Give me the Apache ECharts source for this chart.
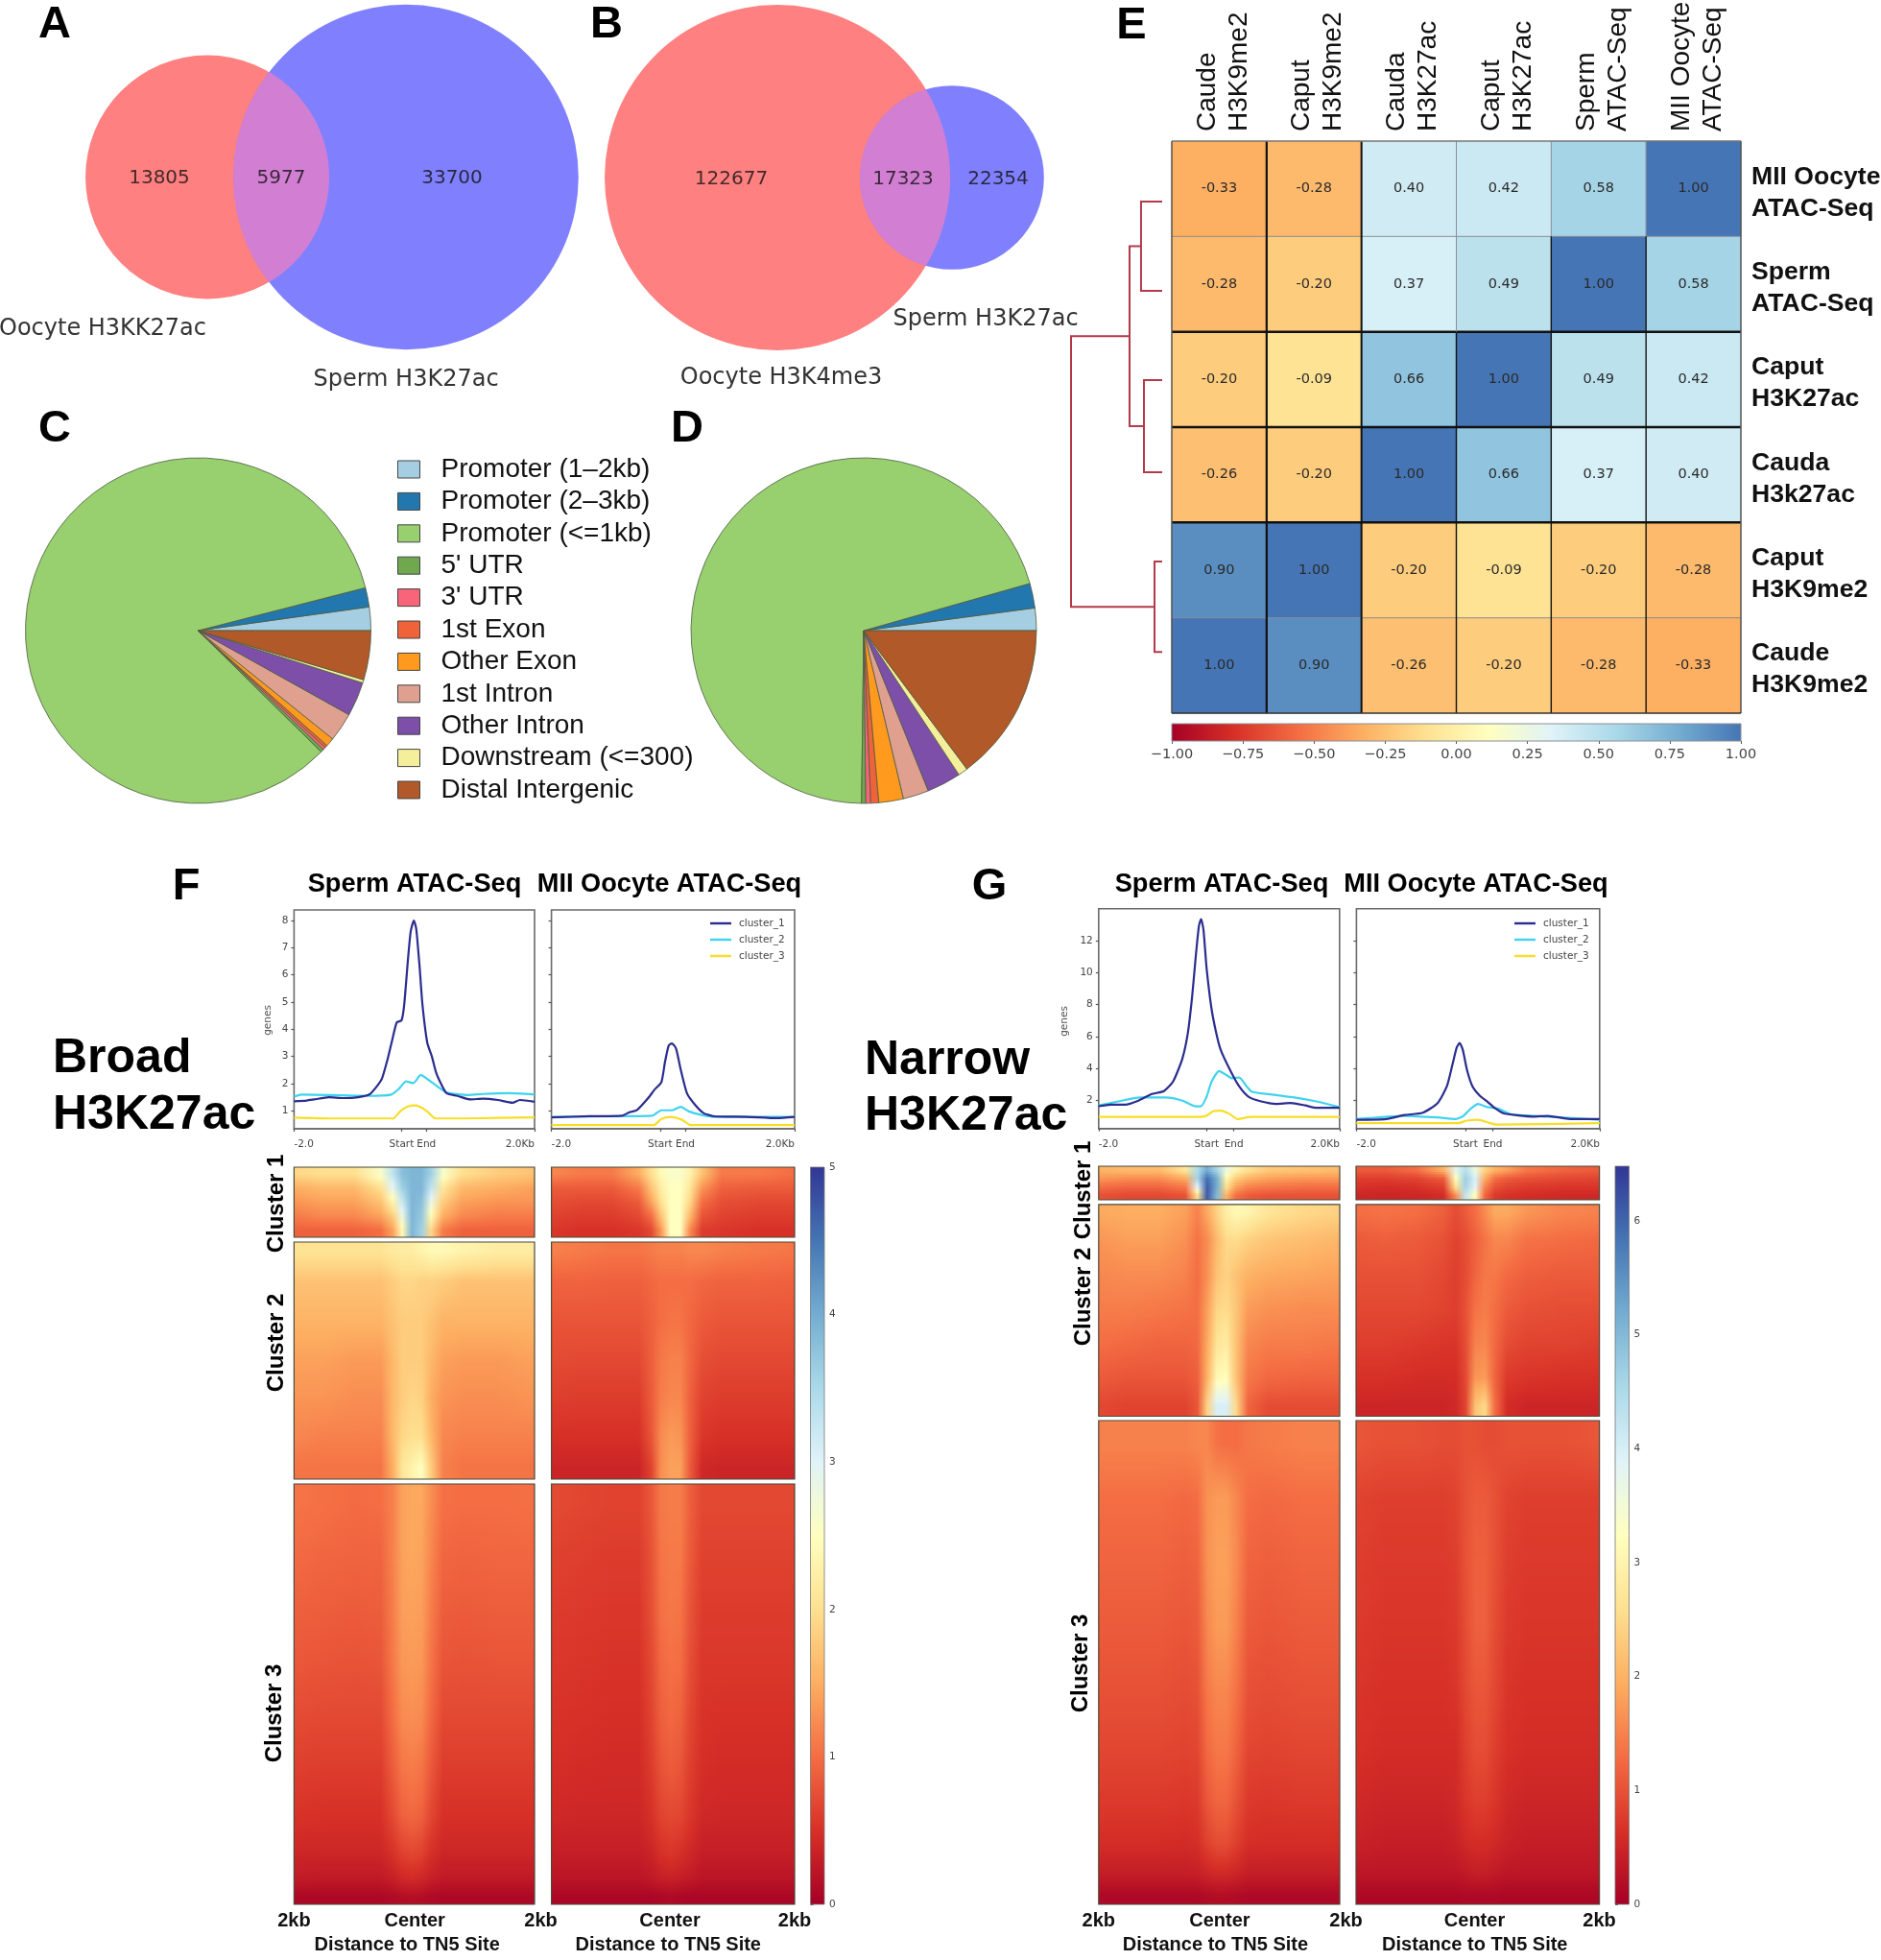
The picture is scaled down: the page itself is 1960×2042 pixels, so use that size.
<!DOCTYPE html>
<html><head><meta charset="utf-8">
<style>html,body{margin:0;padding:0;background:#fff}#c{width:1960px;height:2042px}</style>
<script src="https://cdn.jsdelivr.net/npm/echarts@6/dist/echarts.min.js"></script>
</head><body><div id="c"></div>
<script>
// ---------- Venn values
const vennALabels = ['Oocyte H3KK27ac', 'Sperm H3K27ac'];
const vennAValues = [13805, 5977, 33700];
const vennBLabels = ['Oocyte H3K4me3', 'Sperm H3K27ac'];
const vennBValues = [122677, 17323, 22354];

// ---------- Genomic annotation pies (percent)
const featureNames = ['Promoter (1\u20132kb)', 'Promoter (2\u20133kb)', 'Promoter (<=1kb)', "5' UTR", "3' UTR", '1st Exon', 'Other Exon', '1st Intron', 'Other Intron', 'Downstream (<=300)', 'Distal Intergenic'];
const featureColors = ['#A6CEE3', '#2277AE', '#98D070', '#6FA84F', '#F8647A', '#F0623A', '#FF9A1F', '#E0A090', '#7D4FA8', '#F5EE9A', '#B15928'];
const pieC = [2.2, 1.8, 83.7, 0.3, 0.25, 0.25, 0.8, 2.7, 3.2, 0.3, 4.6];
const pieD = [2.1, 2.3, 70.4, 0.4, 0.45, 0.75, 2.3, 2.4, 3.2, 0.9, 14.8];

// ---------- Correlation matrix
const corrCols = ['Caude\nH3K9me2', 'Caput\nH3K9me2', 'Cauda\nH3K27ac', 'Caput\nH3K27ac', 'Sperm\nATAC-Seq', 'MII Oocyte\nATAC-Seq'];
const corrRows = ['MII Oocyte\nATAC-Seq', 'Sperm\nATAC-Seq', 'Caput\nH3K27ac', 'Cauda\nH3k27ac', 'Caput\nH3K9me2', 'Caude\nH3K9me2'];
const corrValues = [
  [-0.33, -0.28, 0.40, 0.42, 0.58, 1.00],
  [-0.28, -0.20, 0.37, 0.49, 1.00, 0.58],
  [-0.20, -0.09, 0.66, 1.00, 0.49, 0.42],
  [-0.26, -0.20, 1.00, 0.66, 0.37, 0.40],
  [0.90, 1.00, -0.20, -0.09, -0.20, -0.28],
  [1.00, 0.90, -0.26, -0.20, -0.28, -0.33]
];
const corrTicks = [-1, -0.75, -0.5, -0.25, 0, 0.25, 0.5, 0.75, 1];
// dendrogram merges: [merge height, y of child a, height of a, y of child b, height of b]
const dendroMerges = [
  [0.232, 0.634, 0, 1.571, 0],
  [0.200, 2.507, 0, 3.474, 0],
  [0.084, 4.410, 0, 5.358, 0],
  [0.358, 1.102, 0.232, 2.990, 0.200],
  [1.000, 2.046, 0.358, 4.884, 0.084]
];

// ---------- Profile line values (x = percent of the -2.0..2.0Kb window)
const clusterNames = ['cluster_1', 'cluster_2', 'cluster_3'];
const profileTickLabels = ['-2.0', 'Start', 'End', '2.0Kb'];
const fTickPos = [0, 44.7, 55, 100];
const gTickPos = [0, 44.8, 56.1, 100];
const fSpermC1X = [0,5.3,8.4,14.5,20.6,26.7,31.3,34.4,36.6,38.9,40.8,42.7,44.7,45.8,47.3,48.5,49.8,50.8,52.2,53.4,55.4,57.3,59.1,61.1,63.4,67.9,73.3,78.6,84.7,90.8,93.9,100];
const fSpermC1Y = [1.35,1.38,1.42,1.5,1.47,1.5,1.6,1.9,2.2,2.9,3.6,4.25,4.33,4.9,6.5,7.6,8.0,7.7,6.3,4.9,3.5,3.0,2.4,2.0,1.65,1.55,1.42,1.45,1.4,1.3,1.4,1.33];
const fSpermC2X = [0,3.1,16,31.3,40.5,43.5,46.6,49.6,52.7,55.7,58.8,63.4,72.5,78.6,89.3,100];
const fSpermC2Y = [1.52,1.6,1.58,1.55,1.6,1.8,2.08,2.02,2.32,2.15,1.95,1.68,1.58,1.62,1.65,1.6];
const fSpermC3X = [0,16,41.2,44.3,47.3,50.4,53.4,55.7,58.8,69.5,84.7,100];
const fSpermC3Y = [0.75,0.72,0.72,1.0,1.16,1.2,1.1,0.95,0.72,0.72,0.74,0.76];
const fOocyteC1X = [0,15.7,29,32.1,35.1,39.6,42.6,45.2,46.7,48.2,49.5,51.2,53.2,55.7,58.8,62.5,67,80.6,92.7,100];
const fOocyteC1Y = [0.76,0.8,0.82,0.95,1.02,1.45,1.8,2.05,2.8,3.4,3.48,3.3,2.5,1.65,1.25,0.92,0.8,0.78,0.73,0.78];
const fOocyteC2X = [0,30.8,41.4,45.2,49.7,53.2,56.5,61.8,67.8,100];
const fOocyteC2Y = [0.78,0.8,0.82,1.02,1.02,1.15,0.98,0.85,0.78,0.78];
const fOocyteC3X = [0,42.1,45.2,49,53.5,57.3,100];
const fOocyteC3Y = [0.48,0.48,0.7,0.78,0.68,0.48,0.48];
const gSpermC1X = [0,5,11.1,16.5,21.8,27.1,30.9,34.7,37,38.8,40.3,41.6,42.5,43.5,44.8,46.8,48.7,50.6,54.6,58.3,62.2,67.5,73.6,79.7,85.8,90.4,100];
const gSpermC1Y = [1.65,1.75,1.75,2.0,2.4,2.6,3.2,4.6,6.2,8.5,11,12.9,13.35,12.7,10.3,7.8,6.3,5.2,3.9,2.9,2.25,1.95,1.8,1.85,1.7,1.55,1.55];
const gSpermC2X = [0,8.1,17.2,27.9,34.8,40.1,42.4,44.7,46.9,50,53,55.3,58.4,61.4,63.7,73.6,81.3,90.4,100];
const gSpermC2Y = [1.7,1.95,2.2,2.2,2.0,1.65,1.65,2.2,3.2,3.85,3.6,3.4,3.45,2.9,2.55,2.35,2.2,1.95,1.6];
const gSpermC3X = [0,41.6,44.7,47.7,50.8,54.6,57.6,63,100];
const gSpermC3Y = [0.98,0.98,1.05,1.35,1.38,1.15,0.85,0.98,0.98];
const gOocyteC1X = [0,12.2,19.8,27.3,33.4,37.2,39.4,41.2,42.4,43.7,45.5,47.7,50.8,53.8,56.8,60.6,72.7,78.7,87.8,100];
const gOocyteC1Y = [0.8,0.85,1.1,1.25,1.85,2.9,4.2,5.3,5.6,5.2,3.9,2.9,2.3,1.95,1.55,1.2,1,1.05,0.85,0.85];
const gOocyteC2X = [0,19.8,33.4,40.9,44,47,50,53.8,58.3,63.6,78.7,100];
const gOocyteC2Y = [0.85,1.05,0.95,0.85,1.05,1.5,1.8,1.6,1.5,1.15,1,0.8];
const gOocyteC3X = [0,41.7,45.5,50,53.8,57.6,100];
const gOocyteC3Y = [0.6,0.6,0.75,0.8,0.65,0.5,0.6];

// ---------- Signal heatmap values read at these column anchors (fraction of panel width)
const heatCols = [0,.12,.25,.36,.41,.45,.49,.53,.57,.62,.7,.85,1];
const heatTickLabels = ['2kb', 'Center', '2kb'];
const c2Edges = [0,.08,.25,.42,.58,.74,.9,1];
const c3Edges = [0,.1,.22,.36,.5,.62,.74,.84,.91,.965,1];

const fSperm1 = [
 [1.9,2.0,2.0,2.6,3.3,3.8,3.9,3.9,3.6,2.6,2.0,1.8,1.7],
 [1.5,1.6,1.6,2.0,2.9,3.6,3.9,3.9,3.3,2.1,1.6,1.5,1.4],
 [1.3,1.4,1.4,1.7,2.3,3.2,3.9,3.8,2.8,1.8,1.4,1.3,1.3],
 [1.1,1.2,1.2,1.4,1.8,2.8,3.9,3.7,2.4,1.5,1.2,1.1,1.1],
 [.9,.9,.9,1.0,1.4,2.4,3.9,3.6,1.9,1.1,.9,.9,.9]];
const fSperm2 = [
 [2.05,2.05,2.05,2.05,2.15,2.2,2.2,2.3,2.4,2.4,2.3,2.2,2.2],
 [1.7,1.7,1.7,1.7,1.8,1.9,1.9,1.85,1.85,1.8,1.7,1.7,1.7],
 [1.55,1.55,1.55,1.55,1.7,1.8,1.8,1.8,1.7,1.55,1.55,1.55,1.55],
 [1.4,1.4,1.35,1.35,1.6,1.8,1.8,1.8,1.6,1.4,1.35,1.35,1.4],
 [1.3,1.3,1.25,1.25,1.6,1.8,1.9,1.85,1.5,1.3,1.25,1.25,1.3],
 [1.2,1.15,1.15,1.15,1.6,1.9,2,2,1.6,1.2,1.15,1.15,1.15],
 [1.05,1.05,1.05,1.05,1.5,2.1,2.3,2.5,1.8,1.15,1.05,1.05,1.05]];
const fSperm3 = [
 [1.05,1.02,.98,1,1.15,1.4,1.45,1.45,1.25,1.02,1,1,1.02],
 [.98,.95,.93,.93,1.15,1.4,1.45,1.42,1.2,.95,.93,.95,.95],
 [.9,.88,.86,.88,1.12,1.38,1.4,1.38,1.12,.88,.86,.88,.88],
 [.82,.8,.78,.8,1.08,1.32,1.35,1.32,1.05,.8,.78,.8,.8],
 [.72,.7,.7,.7,.98,1.22,1.25,1.22,.95,.7,.7,.7,.7],
 [.62,.6,.6,.6,.85,1.05,1.1,1.05,.82,.6,.6,.6,.6],
 [.52,.5,.5,.5,.7,.9,.95,.9,.68,.5,.5,.5,.5],
 [.4,.4,.4,.4,.52,.65,.7,.65,.5,.4,.4,.4,.4],
 [.28,.27,.27,.27,.33,.42,.45,.42,.33,.27,.27,.27,.27],
 [.08,.08,.08,.08,.1,.14,.15,.14,.1,.08,.08,.08,.08]];
const fOocyte1 = [
 [1.2,1.1,1.1,1.5,2.0,2.4,2.6,2.6,2.3,1.7,1.1,1.1,1.0],
 [.85,.85,.85,1.1,1.7,2.2,2.5,2.5,2.1,1.3,.9,.85,.85],
 [.75,.7,.7,.85,1.4,2.0,2.5,2.5,1.9,1.0,.75,.7,.7],
 [.65,.6,.6,.7,1.0,1.7,2.5,2.5,1.6,.8,.65,.6,.6],
 [.55,.5,.5,.55,.7,1.3,2.5,2.5,1.2,.6,.55,.5,.5]];
const fOocyte2 = [
 [1.15,1.1,1.05,1.05,1.1,1.15,1.15,1.15,1.2,1.2,1.15,1.1,1.05],
 [.92,.92,.9,.9,.95,1,1,1,1,.95,.92,.92,.9],
 [.8,.8,.8,.8,.9,1,1.05,1.05,.95,.85,.8,.8,.8],
 [.72,.7,.7,.7,.88,1.08,1.15,1.15,.95,.75,.7,.7,.7],
 [.62,.6,.6,.6,.85,1.12,1.2,1.2,.9,.65,.6,.6,.6],
 [.5,.5,.5,.5,.8,1.22,1.35,1.3,.9,.55,.5,.5,.5],
 [.38,.38,.38,.38,.65,1.25,1.4,1.4,.85,.42,.38,.38,.38]];
const fOocyte3 = [
 [.72,.68,.65,.65,.82,1.08,1.12,1.12,.88,.7,.7,.7,.7],
 [.65,.62,.6,.6,.78,1.05,1.1,1.1,.85,.65,.65,.65,.65],
 [.6,.58,.56,.56,.75,1.02,1.08,1.05,.8,.6,.6,.6,.6],
 [.56,.54,.52,.52,.7,.95,1.02,1,.75,.56,.56,.56,.56],
 [.52,.5,.48,.48,.65,.88,.95,.9,.68,.52,.5,.5,.5],
 [.48,.45,.44,.44,.58,.78,.85,.8,.62,.48,.45,.45,.45],
 [.42,.4,.4,.4,.5,.65,.7,.68,.55,.42,.4,.4,.4],
 [.32,.32,.32,.32,.38,.5,.55,.5,.42,.32,.32,.32,.32],
 [.22,.22,.22,.22,.26,.32,.35,.32,.28,.22,.22,.22,.22],
 [.06,.06,.06,.06,.06,.08,.1,.08,.06,.06,.06,.06,.06]];
const gSperm1 = [
 [2.0,2.1,2.1,2.7,4.5,5.2,4.6,3.6,3.0,2.6,2.3,2.2,2.1],
 [1.7,1.6,1.6,1.9,4.6,5.9,5.2,3.0,2.3,2.0,1.8,1.7,1.7],
 [1.3,1.2,1.2,1.4,3.8,6.1,5.2,2.6,1.8,1.5,1.4,1.3,1.3],
 [1.0,.9,.9,1.0,2.6,6.1,5.0,2.0,1.3,1.1,1,1,1]];
const gSperm2 = [
 [1.9,1.95,1.95,1.8,1.5,1.9,2.4,2.9,3.1,3.0,2.7,2.5,2.4],
 [1.7,1.8,1.8,1.65,1.35,1.6,2.1,2.5,2.55,2.4,2.25,2.15,2.05],
 [1.55,1.6,1.6,1.5,1.3,1.65,2.2,2.4,2.2,2.0,1.9,1.85,1.8],
 [1.45,1.45,1.4,1.35,1.3,1.8,2.45,2.55,2.25,1.75,1.65,1.6,1.6],
 [1.3,1.25,1.2,1.2,1.25,1.9,2.7,2.85,2.2,1.55,1.45,1.45,1.4],
 [1.1,1.05,1.05,1.05,1.15,2.0,3.1,3.2,2.2,1.4,1.25,1.2,1.2],
 [.9,.85,.85,.85,1.05,2.4,4.0,4.0,2.5,1.2,.95,.95,.95]];
const gSperm3 = [
 [1.5,1.5,1.5,1.5,1.55,1.55,1.35,1.3,1.3,1.4,1.45,1.5,1.5],
 [1.3,1.3,1.3,1.25,1.3,1.65,1.75,1.75,1.55,1.3,1.25,1.3,1.3],
 [1.2,1.2,1.2,1.15,1.2,1.65,1.8,1.8,1.6,1.2,1.15,1.2,1.2],
 [1.1,1.1,1.1,1.05,1.1,1.55,1.75,1.75,1.5,1.1,1.05,1.1,1.1],
 [1,1,1,.95,1,1.4,1.55,1.55,1.35,1,.95,1,1],
 [.88,.88,.88,.85,.88,1.25,1.4,1.4,1.2,.88,.85,.88,.88],
 [.75,.75,.75,.72,.75,1.05,1.2,1.2,1,.75,.72,.75,.75],
 [.6,.6,.6,.58,.62,.82,.95,.95,.8,.62,.6,.6,.6],
 [.4,.4,.4,.4,.42,.5,.55,.55,.5,.4,.4,.4,.4],
 [.12,.12,.12,.12,.12,.16,.18,.18,.16,.12,.12,.12,.12]];
const gOocyte1 = [
 [1.1,1.1,1.3,2.0,3.8,4.4,3.6,2.4,2.0,1.8,1.4,1.2,1.1],
 [.8,.8,.85,1.1,3.2,4.7,4.0,1.9,1.3,1.1,1,.9,.85],
 [.65,.6,.65,.8,2.6,4.6,3.8,1.5,1.0,.85,.75,.7,.7],
 [.5,.5,.5,.6,1.6,4.2,3.2,1.2,.75,.65,.6,.55,.55]];
const gOocyte2 = [
 [1.3,1.35,1.3,1.15,.95,1.1,1.3,1.6,1.9,1.9,1.7,1.55,1.5],
 [1.1,1.15,1.1,1,.85,.95,1.15,1.35,1.55,1.55,1.35,1.3,1.25],
 [1,1,1,.9,.8,.95,1.2,1.4,1.4,1.25,1.15,1.1,1.1],
 [.9,.9,.9,.85,.8,1,1.35,1.45,1.3,1.1,1,.95,.95],
 [.8,.8,.75,.7,.7,.95,1.5,1.55,1.25,.95,.85,.85,.8],
 [.65,.65,.6,.6,.6,.9,1.7,1.75,1.2,.75,.7,.65,.65],
 [.5,.5,.5,.5,.55,.85,2.2,2.5,1.3,.6,.5,.5,.5]];
const gOocyte3 = [
 [1.05,1,1,.95,.95,1,1,.95,.95,1,1,1,1.05],
 [.85,.8,.8,.8,.85,1,1.1,1.1,1,.85,.8,.8,.8],
 [.8,.75,.75,.75,.8,1,1.15,1.15,1,.8,.75,.75,.75],
 [.75,.7,.7,.7,.75,.95,1.15,1.15,.95,.75,.7,.7,.7],
 [.7,.65,.65,.65,.7,.9,1.05,1.05,.9,.7,.65,.65,.65],
 [.65,.6,.6,.6,.6,.8,.95,.95,.8,.65,.6,.6,.6],
 [.55,.5,.5,.5,.55,.7,.8,.8,.7,.55,.5,.5,.5],
 [.45,.4,.4,.4,.45,.55,.6,.6,.55,.45,.4,.4,.4],
 [.3,.3,.3,.3,.3,.35,.4,.4,.35,.3,.3,.3,.3],
 [.1,.1,.1,.1,.1,.12,.12,.12,.12,.1,.1,.1,.1]];

// ---------- Palettes
const rdylbu11 = ['#a50026','#d73027','#f46d43','#fdae61','#fee090','#ffffbf','#e0f3f8','#abd9e9','#74add1','#4575b4','#313695'];
const rdylbu10 = rdylbu11.slice(0, 10);

function hex(c){return [1,3,5].map(i=>parseInt(c.substr(i,2),16));}
function cmap(t, pal){
  t = Math.max(0, Math.min(1, t)) * (pal.length - 1);
  const i = Math.min(pal.length - 2, Math.floor(t)), f = t - i, a = hex(pal[i]), b = hex(pal[i+1]);
  return 'rgb(' + a.map((v,k)=>Math.round(v + (b[k]-v)*f)).join(',') + ')';
}
function gradStops(pal){return pal.map((c,i)=>({offset:i/(pal.length-1),color:c}));}

const SANS = '"Liberation Sans", Arial, sans-serif';
const DEJA = '"DejaVu Sans", sans-serif';
const grid = [], xAxis = [], yAxis = [], series = [], graphic = [];

function hiddenAxis(gi, min, max, inverse){
  return {type:'value', gridIndex:gi, min, max, inverse:!!inverse, show:false};
}
function addGrid(g, xa, ya){
  const gi = grid.length;
  grid.push(Object.assign({containLabel:false, outerBoundsMode:'none'}, g));
  xAxis.push(Object.assign({gridIndex:gi}, xa));
  yAxis.push(Object.assign({gridIndex:gi}, ya));
  return gi;
}
function txt(text, x, y, size, opt){
  opt = opt || {};
  graphic.push({type:'text', x, y, rotation:opt.rot||0, z:50, silent:true, style:{
    text, x:0, y:0, fontFamily:opt.family||SANS, fontSize:size, fontWeight:opt.weight||'normal',
    fill:opt.fill||'#111', align:opt.align||'center', verticalAlign:'middle',
    textAlign:opt.align||'center', textVerticalAlign:'middle', lineHeight:opt.lh}});
}

// ---------- Panel letters
[['A',57,26],['B',632,26],['C',57,447],['D',716,447],['E',1179,27],['F',194,924],['G',1031,924]]
  .forEach(d=>txt(d[0], d[1], d[2], 47, {weight:'bold', fill:'#000'}));

// ---------- Venn panels (one pixel-scaled grid shared by A and B)
const vennGi = addGrid({left:0, top:0, width:1120, height:400},
  {type:'value', min:0, max:1120, show:false}, {type:'value', min:0, max:400, inverse:true, show:false});
const vennRed = '#FF8080', vennBlue = '#8080FF', vennMix = '#D27FD3';
function addVenn(values, cxL, cxR, cy, k, labelX){
  const rL = k*Math.sqrt(values[0]+values[1]), rR = k*Math.sqrt(values[1]+values[2]);
  [[cxL,rL,vennRed],[cxR,rR,vennBlue]].forEach(c=>series.push({type:'scatter', xAxisIndex:vennGi, yAxisIndex:vennGi,
    symbolSize:2*c[1], data:[[c[0],cy]], itemStyle:{color:c[2], opacity:1}, silent:true, clip:false, z:2}));
  series.push({type:'custom', xAxisIndex:vennGi, yAxisIndex:vennGi, data:[[cxL,cy]], silent:true, clip:false, z:3,
    renderItem:(p,api)=>{
      const d = cxR-cxL, a = (d*d+rL*rL-rR*rR)/(2*d), h = Math.sqrt(rL*rL-a*a);
      const t1 = Math.atan2(h,a), t2 = Math.atan2(h,d-a), pts = [];
      for(let i=0;i<=80;i++){const t=-t1+2*t1*i/80; pts.push(api.coord([cxL+rL*Math.cos(t), cy+rL*Math.sin(t)]));}
      for(let i=0;i<=80;i++){const t=t2-2*t2*i/80; pts.push(api.coord([cxR-rR*Math.cos(t), cy+rR*Math.sin(t)]));}
      return {type:'polygon', shape:{points:pts}, style:{fill:vennMix}};
    }});
  series.push({type:'scatter', xAxisIndex:vennGi, yAxisIndex:vennGi, symbolSize:1, z:4, silent:true, clip:false,
    itemStyle:{color:'rgba(0,0,0,0)'},
    data:values.map((v,i)=>[labelX[i], cy+1.5, v]),
    label:{show:true, position:'inside', formatter:p=>String(p.value[2]), fontFamily:DEJA, fontSize:20, color:'#111'}});
}
addVenn(vennAValues, 216, 423, 184.5, 0.9025, [166,293,471]);
addVenn(vennBValues, 810, 992, 185, 0.481, [762,941,1040]);
txt(vennALabels[0], 107, 343, 24, {family:DEJA, fill:'#333'});
txt(vennALabels[1], 423, 396, 24, {family:DEJA, fill:'#333'});
txt(vennBLabels[0], 814, 394, 24, {family:DEJA, fill:'#333'});
txt(vennBLabels[1], 1027, 333, 24, {family:DEJA, fill:'#333'});

// ---------- Pies
[[pieC,206.5],[pieD,900]].forEach(d=>series.push({type:'pie', center:[d[1],657], radius:[0,180], startAngle:0, clockwise:false,
  label:{show:false}, labelLine:{show:false}, silent:true, minAngle:0, avoidLabelOverlap:false, z:2,
  itemStyle:{borderColor:'#4c5a40', borderWidth:0.8},
  data:d[0].map((v,i)=>({name:featureNames[i], value:v, itemStyle:{color:featureColors[i]}}))}));

// ---------- Correlation heatmap
const corrGi = addGrid({left:1221, top:147, width:593, height:596, show:false},
  {type:'category', data:corrCols, position:'top', axisLine:{show:false}, axisTick:{show:false}, splitArea:{show:false}, axisLabel:{show:false}},
  {type:'category', data:corrRows, inverse:true, position:'right', axisLine:{show:false}, axisTick:{show:false}, axisLabel:{show:false}});
// the names sit slightly off the cell centres, so they get their own copy of the two axes
addGrid({left:1225, top:151, width:593, height:596, show:false},
  {type:'category', data:corrCols, position:'top', axisLine:{show:false}, axisTick:{show:false},
   axisLabel:{rotate:-90, interval:0, margin:14, fontFamily:SANS, fontSize:28, color:'#111', lineHeight:33}},
  {type:'category', data:corrRows, inverse:true, position:'right', axisLine:{show:false}, axisTick:{show:false},
   axisLabel:{interval:0, margin:7, fontFamily:SANS, fontSize:26.6, fontWeight:'bold', color:'#111', lineHeight:33, align:'left'}});
const corrSeriesIndex = series.length;
const corrData = [];
corrValues.forEach((r,y)=>r.forEach((v,x)=>corrData.push([x,y,v])));
series.push({type:'heatmap', xAxisIndex:corrGi, yAxisIndex:corrGi, data:corrData, silent:true, z:2,
  label:{show:true, formatter:p=>p.value[2].toFixed(2), fontFamily:DEJA, fontSize:14.5, color:'#2a2a2a'}});
// cell separators, in units of cells: [x0,y0,x1,y1,width,colour]
const heavy='#111', soft='#8a8f96';
const corrEdges = [[0,2,6,2,2.5,heavy],[0,3,6,3,2.5,heavy],[0,4,6,4,2.5,heavy],[0,1,6,1,1,soft],[0,5,6,5,1,soft],
  [1,0,1,6,2.2,heavy],[2,0,2,6,2,heavy],[3,0,3,2,1,soft],[3,2,3,6,1.4,heavy],[4,0,4,1,1,soft],[4,1,4,6,1.4,heavy],
  [5,0,5,1,1,soft],[5,1,5,6,1.4,heavy],[0,0,6,0,1.5,'#777'],[6,0,6,6,1.5,'#555'],[0,0,0,6,1.5,'#555'],[0,6,6,6,1.5,'#333']];
series.push({type:'custom', xAxisIndex:corrGi, yAxisIndex:corrGi, data:corrEdges.map((e,i)=>[i]), silent:true, clip:false, z:3,
  renderItem:(p,api)=>{
    const e = corrEdges[p.dataIndex], cs = p.coordSys, cw = cs.width/6, ch = cs.height/6;
    return {type:'line', shape:{x1:cs.x+e[0]*cw, y1:cs.y+e[1]*ch, x2:cs.x+e[2]*cw, y2:cs.y+e[3]*ch}, style:{stroke:e[5], lineWidth:e[4]}};
  }});
// colour bar
const corrBarGi = addGrid({left:1221, top:754, width:593, height:18},
  {type:'value', min:-1, max:1, interval:0.25, position:'bottom', axisLine:{show:false}, splitLine:{show:false},
   axisTick:{show:true, length:3, lineStyle:{color:'#555'}},
   axisLabel:{margin:7, fontFamily:DEJA, fontSize:14.5, color:'#444', formatter:v=>v.toFixed(2).replace('-','\u2212')}},
  {type:'value', min:0, max:1, show:false});
series.push({type:'custom', xAxisIndex:corrBarGi, yAxisIndex:corrBarGi, data:[[corrTicks[0],corrTicks[8]]], silent:true, z:2,
  renderItem:(p,api)=>{
    const a = api.coord([api.value(0),1]), b = api.coord([api.value(1),0]);
    return {type:'rect', shape:{x:a[0],y:a[1],width:b[0]-a[0],height:b[1]-a[1]},
      style:{fill:new echarts.graphic.LinearGradient(0,0,1,0,gradStops(rdylbu10)), stroke:'#8a8f96', lineWidth:1}};
  }});
// dendrogram
const dendroGi = addGrid({left:1116, top:147, width:95, height:596},
  {type:'value', min:0, max:1, inverse:true, show:false}, {type:'value', min:0, max:6, inverse:true, show:false});
series.push({type:'custom', xAxisIndex:dendroGi, yAxisIndex:dendroGi, data:dendroMerges, silent:true, clip:false, z:2,
  renderItem:(p,api)=>{
    const m = dendroMerges[p.dataIndex];
    return {type:'polyline', shape:{points:[api.coord([m[2],m[1]]),api.coord([m[0],m[1]]),api.coord([m[0],m[3]]),api.coord([m[4],m[3]])]},
      style:{stroke:'#b23a4a', lineWidth:2, fill:'none'}};
  }});

// ---------- Line profiles
const lineColors = ['#2b2d8f', '#3fd3ee', '#f6de27'];
function addProfile(box, yMin, yMax, yTicks, xTicks, showY, seriesXY){
  const gi = addGrid({left:box[0], top:box[1], width:box[2]-box[0], height:box[3]-box[1], show:true, borderColor:'#6a6a6a', borderWidth:1.6, backgroundColor:'#fff'},
    {type:'value', min:0, max:100, splitLine:{show:false}, axisLine:{show:true, lineStyle:{color:'#6a6a6a', width:1.6}},
     axisTick:{show:true, length:3, customValues:xTicks, lineStyle:{color:'#555', width:1.2}},
     axisLabel:{customValues:xTicks, margin:11, fontFamily:DEJA, fontSize:10.5, color:'#444', alignMinLabel:'left', alignMaxLabel:'right',
       formatter:(v)=>profileTickLabels[xTicks.indexOf(v)]}},
    {type:'value', min:yMin, max:yMax, splitLine:{show:false}, axisLine:{show:false},
     axisTick:{show:true, length:3, customValues:yTicks, lineStyle:{color:'#555', width:1.2}},
     axisLabel:{show:showY, customValues:yTicks, margin:6, fontFamily:DEJA, fontSize:10.5, color:'#444'}});
  seriesXY.forEach((s,i)=>series.push({type:'line', name:clusterNames[i], xAxisIndex:gi, yAxisIndex:gi, showSymbol:false, smooth:0.2, silent:true, z:[4,3,2][i],
    lineStyle:{color:lineColors[i], width:2.2}, itemStyle:{color:lineColors[i]},
    data:s[0].map((x,k)=>[x,s[1][k]])}));
}
const fY = [1,2,3,4,5,6,7,8], gY = [2,4,6,8,10,12];
addProfile([306.4,948,557,1176], 0.34, 8.39, fY, fTickPos, true, [[fSpermC1X,fSpermC1Y],[fSpermC2X,fSpermC2Y],[fSpermC3X,fSpermC3Y]]);
addProfile([574.6,948,828,1176], 0.34, 8.39, fY, fTickPos, false, [[fOocyteC1X,fOocyteC1Y],[fOocyteC2X,fOocyteC2Y],[fOocyteC3X,fOocyteC3Y]]);
addProfile([1144.8,946.7,1395.8,1175.7], 0.26, 14, gY, gTickPos, true, [[gSpermC1X,gSpermC1Y],[gSpermC2X,gSpermC2Y],[gSpermC3X,gSpermC3Y]]);
addProfile([1413.4,946.7,1666.8,1175.7], 0.26, 14, gY, gTickPos, false, [[gOocyteC1X,gOocyteC1Y],[gOocyteC2X,gOocyteC2Y],[gOocyteC3X,gOocyteC3Y]]);
txt('genes', 279, 1063, 10.5, {family:DEJA, rot:Math.PI/2, fill:'#555'});
txt('genes', 1109, 1064, 10.5, {family:DEJA, rot:Math.PI/2, fill:'#555'});

// ---------- Signal heatmaps: read rows drawn with smooth shading between row centres
function addHeat(rect, rows, edges, maxV, bottomAxis){
  const gi = addGrid({left:rect[0], top:rect[1], width:rect[2]-rect[0], height:rect[3]-rect[1]},
    bottomAxis ? {type:'value', min:0, max:1, splitLine:{show:false}, axisLine:{show:false}, axisTick:{show:false},
        name:'Distance to TN5 Site', nameLocation:'middle', nameGap:32,
        nameTextStyle:{fontFamily:SANS, fontWeight:'bold', fontSize:20, color:'#111', padding:bottomAxis.namePad},
        axisLabel:{customValues:bottomAxis.ticks, margin:7, fontFamily:SANS, fontWeight:'bold', fontSize:20, color:'#111',
          rich:{s:{fontFamily:SANS, fontWeight:'bold', fontSize:20, color:'#111', padding:[0,0,0,13]}},
          formatter:v=>{const i=bottomAxis.ticks.indexOf(v), l=bottomAxis.labels[i]; return bottomAxis.shiftLast && i===bottomAxis.ticks.length-1 ? '{s|'+l+'}' : l;}}}
      : hiddenAxis(grid.length,0,1),
    hiddenAxis(grid.length,0,1,true));
  const e = edges || rows.map((_,i)=>i/rows.length).concat([1]);
  const centres = rows.map((_,i)=>(e[i]+e[i+1])/2);
  function valueAt(f,k){
    if(f<=centres[0]) return rows[0][k];
    for(let i=0;i<rows.length-1;i++){
      if(f<=centres[i+1]){const t=(f-centres[i])/(centres[i+1]-centres[i]); return rows[i][k]+(rows[i+1][k]-rows[i][k])*t;}
    }
    return rows[rows.length-1][k];
  }
  series.push({type:'custom', xAxisIndex:gi, yAxisIndex:gi, data:rows.map((_,i)=>[e[i],e[i+1]]), silent:true, clip:false, z:2,
    renderItem:(p,api)=>{
      const i = p.dataIndex, a = api.coord([0,api.value(0)]), b = api.coord([1,api.value(1)]);
      const top = api.coord([0,0])[1], bot = api.coord([1,1])[1], children = [];
      const y0 = Math.round(a[1]), y1 = Math.round(b[1]);
      for(let y=y0;y<y1;y+=2){
        const f=(y+1-top)/(bot-top);
        children.push({type:'rect', shape:{x:a[0],y:y,width:b[0]-a[0],height:Math.min(2.5,y1-y)},
          style:{fill:new echarts.graphic.LinearGradient(0,0,1,0,heatCols.map((c,k)=>({offset:c,color:cmap(valueAt(f,k)/maxV,rdylbu11)})))}});
      }
      if(i===rows.length-1){
        const t = api.coord([0,0]), r = api.coord([1,1]);
        children.push({type:'rect', shape:{x:t[0],y:t[1],width:r[0]-t[0],height:r[1]-t[1]}, style:{fill:'none',stroke:'#4a4a3a',lineWidth:1.2}});
      }
      return {type:'group', children};
    }});
}
function addColorBar(left, max, span, ticks){
  const gi = addGrid({left, top:span[0], width:14.5, height:span[1]-span[0]},
    {type:'value', min:0, max:1, show:false},
    {type:'value', min:0, max, position:'right', splitLine:{show:false}, axisLine:{show:false},
     axisTick:{show:true, length:3, customValues:ticks, lineStyle:{color:'#555'}}, axisLabel:{customValues:ticks, margin:5, fontFamily:DEJA, fontSize:10.5, color:'#444'}});
  series.push({type:'custom', xAxisIndex:gi, yAxisIndex:gi, data:[[0,max]], silent:true, z:2,
    renderItem:(p,api)=>{
      const a = api.coord([0,api.value(1)]), b = api.coord([1,api.value(0)]);
      return {type:'rect', shape:{x:a[0],y:a[1],width:b[0]-a[0],height:b[1]-a[1]},
        style:{fill:new echarts.graphic.LinearGradient(0,1,0,0,gradStops(rdylbu11)), stroke:'#777', lineWidth:0.8}};
    }});
}
const fL = [306.4,557], fR = [574.6,828], gL = [1144.8,1396], gR = [1413,1666.6];
const fV = [[1216,1289],[1294,1541],[1546,1984]], gV = [[1215,1250],[1254.8,1475.5],[1480,1984]];
const leftAxis = pad=>({ticks:[0,0.502,1], labels:heatTickLabels, namePad:pad, shiftLast:true});
const rightAxis = (c,pad)=>({ticks:[c,1], labels:heatTickLabels.slice(1), namePad:pad});
[[fL,fV,[fSperm1,fSperm2,fSperm3],5,leftAxis([0,15,0,0])],
 [fR,fV,[fOocyte1,fOocyte2,fOocyte3],5,rightAxis(0.487,[0,10,0,0])],
 [gL,gV,[gSperm1,gSperm2,gSperm3],6.48,leftAxis([0,8,0,0])],
 [gR,gV,[gOocyte1,gOocyte2,gOocyte3],6.48,rightAxis(0.487,[0,6,0,0])]].forEach(d=>{
  addHeat([d[0][0],d[1][0][0],d[0][1],d[1][0][1]], d[2][0], null, d[3]);
  addHeat([d[0][0],d[1][1][0],d[0][1],d[1][1][1]], d[2][1], c2Edges, d[3]);
  addHeat([d[0][0],d[1][2][0],d[0][1],d[1][2][1]], d[2][2], c3Edges, d[3], d[4]);
});
addColorBar(844.5, 5, [1216,1984], [0,1,2,3,4,5]);
addColorBar(1683, 6.48, [1215,1984], [0,1,2,3,4,5,6]);

// ---------- Free text
[[432,'Sperm ATAC-Seq'],[697.5,'MII Oocyte ATAC-Seq'],[1273,'Sperm ATAC-Seq'],[1538,'MII Oocyte ATAC-Seq']]
  .forEach(d=>txt(d[1], d[0], 922, 27.2, {weight:'bold', fill:'#000'}));
txt('Broad\nH3K27ac', 55, 1133, 50, {weight:'bold', align:'left', lh:59, fill:'#000'});
txt('Narrow\nH3K27ac', 901, 1134, 50, {weight:'bold', align:'left', lh:58, fill:'#000'});
[[288,1254,'Cluster 1'],[288,1399,'Cluster 2'],[286,1785,'Cluster 3'],[1129,1240,'Cluster 1'],[1129,1351,'Cluster 2'],[1126,1733,'Cluster 3']]
  .forEach(d=>txt(d[2], d[0], d[1], 24, {weight:'bold', rot:Math.PI/2, fill:'#000'}));

const option = {
  animation:false, backgroundColor:'#fff', grid, xAxis, yAxis, series, graphic:{elements:graphic},
  visualMap:[{show:false, type:'continuous', min:-1, max:1, seriesIndex:corrSeriesIndex, dimension:2, inRange:{color:rdylbu10}}],
  legend:[
    {left:414, top:475, padding:0, orient:'vertical', data:featureNames, selectedMode:false, icon:'rect', itemWidth:23, itemHeight:18, itemGap:5.4,
     itemStyle:{borderColor:'#444', borderWidth:1}, textStyle:{fontFamily:SANS, fontSize:28, color:'#111', padding:[0,0,0,17]}},
    {left:740, top:956, padding:0, orient:'vertical', data:clusterNames, selectedMode:false, icon:'rect', itemWidth:22, itemHeight:2.4, itemGap:5, itemStyle:{borderWidth:0},
     textStyle:{fontFamily:DEJA, fontSize:10.5, color:'#444', lineHeight:12, padding:[0,0,0,3]}},
    {left:1578, top:956, padding:0, orient:'vertical', data:clusterNames, selectedMode:false, icon:'rect', itemWidth:22, itemHeight:2.4, itemGap:5, itemStyle:{borderWidth:0},
     textStyle:{fontFamily:DEJA, fontSize:10.5, color:'#444', lineHeight:12, padding:[0,0,0,3]}}
  ]
};
const chart = echarts.init(document.getElementById('c'), null, {renderer:'canvas', width:1960, height:2042});
chart.setOption(option);
</script></body></html>
